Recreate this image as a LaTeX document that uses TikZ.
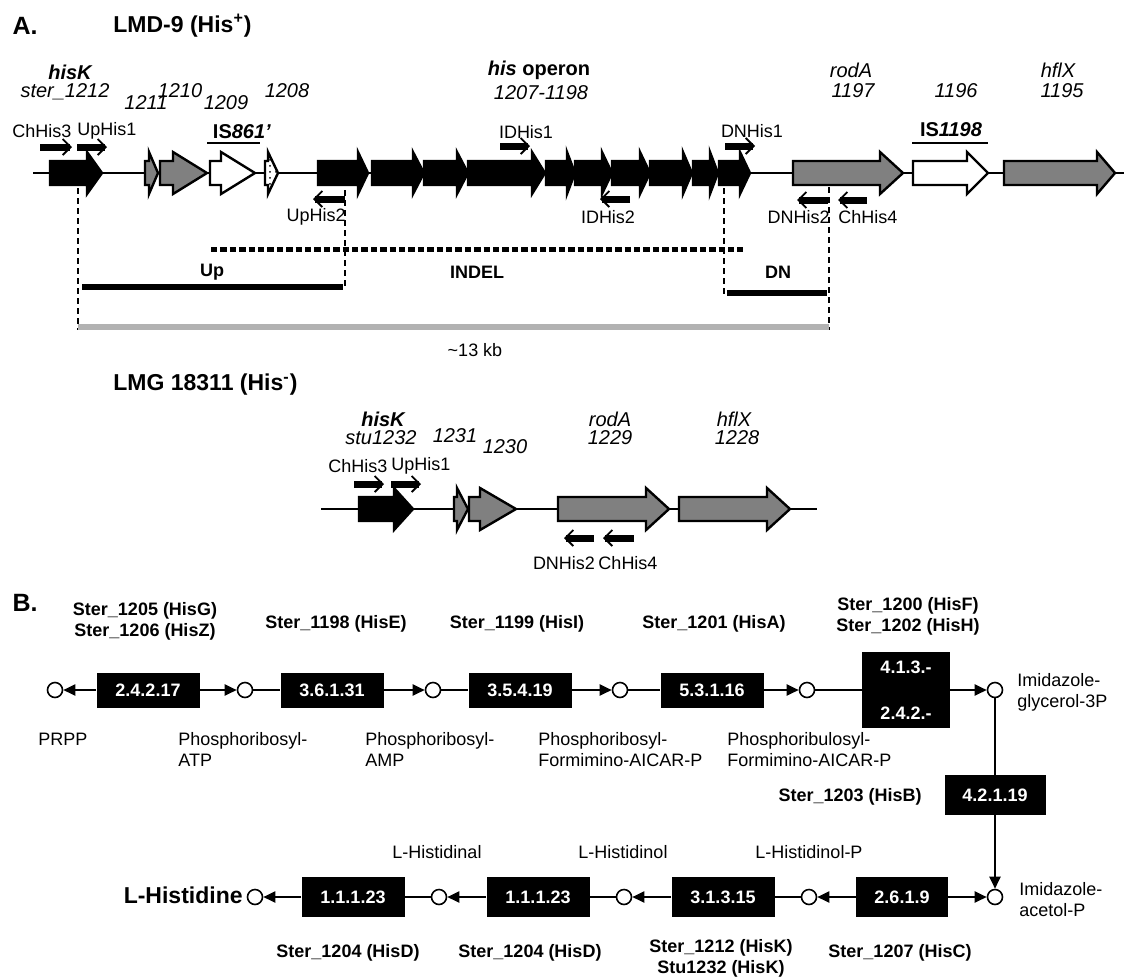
\documentclass[tikz,border=0pt]{standalone}
\usepackage{fontspec}
\setmainfont{Liberation Sans}
\usetikzlibrary{arrows.meta,patterns}

% gene arrow: style, start, neck, tip, centre line
\newcommand{\genearrow}[5]{%
 \draw[gene,#1] (#2,#5-12) -- (#3,#5-12) -- (#3,#5-21) -- (#4,#5)
  -- (#3,#5+21) -- (#3,#5+12) -- (#2,#5+12) -- cycle;}

\begin{document}
\begin{tikzpicture}[x=0.5pt,y=-0.5pt,font=\fontsize{9}{10.5}\selectfont,
 gene/.style={draw,line width=1.2pt,line join=miter},
 primer/.style={line width=3.5pt,-{Straight Barb[line width=0.9pt,length=4pt,width=8pt]}},
 cut/.style={line width=0.8pt,dash pattern=on 3pt off 2pt},
 lbl/.style={inner sep=0pt},
 glbl/.style={inner sep=0pt,font=\itshape\fontsize{10}{12}\selectfont},
 hd/.style={inner sep=0pt,anchor=west,font=\bfseries\fontsize{11.5}{13}\selectfont},
 box/.style={fill=black,text=white,font=\bfseries\fontsize{9}{10}\selectfont,
  minimum width=51.5pt,minimum height=17.5pt,inner sep=0pt,align=center},
 met/.style={circle,draw,line width=0.8pt,fill=white,minimum size=7.5pt,inner sep=0pt},
 enz/.style={font=\bfseries\fontsize{9}{10.5}\selectfont,align=center,inner sep=0pt},
 line/.style={line width=1pt},
 rx/.style={line width=1pt,-{Triangle[length=6pt,width=5.5pt]}}]
\useasboundingbox (0,0) rectangle (1125,976);

% ---- A. LMD-9
\node[lbl,font=\bfseries\fontsize{12.5}{14}\selectfont] (tagA) at (25,26) {A.};
\node[hd] (lmd) at (113,26) {LMD-9 (His\textsuperscript{+})};
\draw[line width=1pt] (33,173) -- (1124,173);
\genearrow{fill=black}{50}{87}{102}{173}
\genearrow{fill=black!50}{145}{149}{158}{173}
\genearrow{fill=black!50}{160}{173}{207}{173}
\genearrow{fill=white}{210}{221}{255}{173}
\genearrow{fill=white,postaction={pattern=dots}}{265}{268}{278}{173}
\genearrow{fill=black}{318}{358}{368}{173}
\genearrow{fill=black}{372}{413}{424}{173}
\genearrow{fill=black}{424}{457}{468}{173}
\genearrow{fill=black}{468}{532}{545}{173}
\genearrow{fill=black}{546}{567}{575}{173}
\genearrow{fill=black}{575}{602}{612}{173}
\genearrow{fill=black}{612}{640}{650}{173}
\genearrow{fill=black}{650}{683}{692}{173}
\genearrow{fill=black}{693}{710}{718}{173}
\genearrow{fill=black}{719}{740}{750}{173}
\genearrow{fill=black!50}{793}{880}{903}{173}
\genearrow{fill=white}{913}{967}{988}{173}
\genearrow{fill=black!50}{1004}{1097}{1115}{173}

\node[glbl,font=\bfseries\itshape\fontsize{10}{12}\selectfont] (hisk) at (70,72) {hisK};
\node[glbl] (s1212) at (65,92) {ster\_1212};
\node[glbl] (g1211) at (146,103) {1211};
\node[glbl] (g1210) at (180,91) {1210};
\node[glbl] (g1209) at (226,103) {1209};
\node[glbl] (g1208) at (287,91) {1208};
\node[lbl,font=\bfseries\fontsize{10}{12}\selectfont] (op) at (539,70) {\textit{his} operon};
\node[glbl] (g1207) at (541,93) {1207-1198};
\node[glbl] (roda) at (851,70) {rodA};
\node[glbl] (g1197) at (853,91) {1197};
\node[glbl] (g1196) at (956,91) {1196};
\node[glbl] (hflx) at (1058,70) {hflX};
\node[glbl] (g1195) at (1062,91) {1195};
\node[lbl,font=\bfseries\fontsize{10}{12}\selectfont] (is861) at (242,132) {IS\textit{861’}};
\node[lbl,font=\bfseries\fontsize{10}{12}\selectfont] (is1198) at (951,130) {IS\textit{1198}};
\draw[line width=1pt] (207,143) -- (260,143);
\draw[line width=1pt] (912,143) -- (988,143);

\node[lbl] (ch3) at (42,131) {ChHis3};
\node[lbl] (up1) at (107,131) {UpHis1};
\node[lbl] (id1) at (526,132) {IDHis1};
\node[lbl] (dn1) at (752,131) {DNHis1};
\draw[primer] (40,147) -- (72,147);
\draw[primer] (77,147) -- (107,147);
\draw[primer] (500,146) -- (530,146);
\draw[primer] (725,146) -- (755,146);
\draw[primer] (345,199) -- (313,199);
\draw[primer] (630,199) -- (600,199);
\draw[primer] (828,200) -- (797,200);
\draw[primer] (867,200) -- (838,200);
\node[lbl,anchor=east] (up2) at (346,217) {UpHis2};
\node[lbl] (id2) at (608,217) {IDHis2};
\node[lbl,anchor=east] (dn2) at (830,217) {DNHis2};
\node[lbl,anchor=west] (ch4) at (838,217) {ChHis4};

\draw[cut] (78,188) -- (78,330);
\draw[cut] (345,190) -- (345,288);
\draw[cut] (724,188) -- (724,297);
\draw[cut] (829,187) -- (829,330);
\draw[line width=2.5pt,dash pattern=on 3.2pt off 1.5pt] (211,249) -- (743,249);
\draw[line width=3pt] (82,287) -- (343,287);
\draw[line width=3pt] (727,293) -- (827,293);
\draw[line width=3pt,black!30] (78,327) -- (829,327);
\node[lbl,font=\bfseries\fontsize{9}{10.5}\selectfont] (upr) at (212,272) {Up};
\node[lbl,font=\bfseries\fontsize{9}{10.5}\selectfont] (indel) at (477,272) {INDEL};
\node[lbl,font=\bfseries\fontsize{9}{10.5}\selectfont] (dnr) at (778,272) {DN};
\node[lbl] (kb) at (475,350) {\textasciitilde13 kb};

% ---- LMG 18311
\node[hd] (lmg) at (113,385) {LMG 18311 (His\textsuperscript{-})};
\draw[line width=1pt] (321,509) -- (817,509);
\genearrow{fill=black}{359}{394}{413}{509}
\genearrow{fill=black!50}{454}{457}{468}{509}
\genearrow{fill=black!50}{469}{480}{516}{509}
\genearrow{fill=black!50}{558}{646}{669}{509}
\genearrow{fill=black!50}{679}{767}{790}{509}
\node[glbl,font=\bfseries\itshape\fontsize{10}{12}\selectfont] (hisk2) at (383,419) {hisK};
\node[glbl] (s1232) at (381,438) {stu1232};
\node[glbl] (g1231) at (455,436) {1231};
\node[glbl] (g1230) at (505,447) {1230};
\node[glbl] (roda2) at (610,419) {rodA};
\node[glbl] (g1229) at (610,438) {1229};
\node[glbl] (hflx2) at (734,419) {hflX};
\node[glbl] (g1228) at (737,438) {1228};
\node[lbl] (ch3b) at (358,466) {ChHis3};
\node[lbl] (up1b) at (421,466) {UpHis1};
\draw[primer] (354,484) -- (384,484);
\draw[primer] (391,484) -- (421,484);
\draw[primer] (594,538) -- (564,538);
\draw[primer] (634,538) -- (603,538);
\node[lbl] (dn2b) at (564,563) {DNHis2};
\node[lbl] (ch4b) at (628,563) {ChHis4};

% ---- B. pathway
\node[lbl,font=\bfseries\fontsize{12.5}{14}\selectfont] (tagB) at (25,603) {B.};
\node[met] (m1) at (55,690) {};
\node[box] (e1) at (148,690) {2.4.2.17};
\node[met] (m2) at (245,690) {};
\node[box] (e2) at (332,690) {3.6.1.31};
\node[met] (m3) at (433,690) {};
\node[box] (e3) at (520,690) {3.5.4.19};
\node[met] (m4) at (620,690) {};
\node[box] (e4) at (712,690) {5.3.1.16};
\node[met] (m5) at (807,690) {};
\node[box,minimum width=44pt,minimum height=38pt] (e5) at (906,690) {4.1.3.-\\[13pt]2.4.2.-};
\node[met] (m6) at (995,690) {};
\node[box,minimum width=50.5pt,minimum height=20pt] (e6) at (995,795) {4.2.1.19};
\node[met] (m7) at (995,897) {};
\node[box,minimum width=46pt,minimum height=20pt] (e7) at (902,897) {2.6.1.9};
\node[met] (m8) at (809,897) {};
\node[box,minimum height=20pt] (e8) at (723,897) {3.1.3.15};
\node[met] (m9) at (624,897) {};
\node[box,minimum height=20pt] (e9) at (538,897) {1.1.1.23};
\node[met] (m10) at (439,897) {};
\node[box,minimum height=20pt] (e10) at (353,897) {1.1.1.23};
\node[met] (m11) at (255,897) {};

\draw[rx] (e1) -- (m1); \draw[rx] (e1) -- (m2);
\draw[line] (m2) -- (e2); \draw[rx] (e2) -- (m3);
\draw[line] (m3) -- (e3); \draw[rx] (e3) -- (m4);
\draw[line] (m4) -- (e4); \draw[rx] (e4) -- (m5);
\draw[line] (m5) -- (e5); \draw[rx] (e5) -- (m6);
\draw[line] (m6) -- (e6); \draw[rx] (e6) -- (m7);
\draw[rx] (e7) -- (m7); \draw[rx] (e7) -- (m8);
\draw[line] (m8) -- (e8); \draw[rx] (e8) -- (m9);
\draw[line] (m9) -- (e9); \draw[rx] (e9) -- (m10);
\draw[line] (m10) -- (e10); \draw[rx] (e10) -- (m11);

\node[enz] (z1) at (145,621) {Ster\_1205 (HisG)\\Ster\_1206 (HisZ)};
\node[enz] (z2) at (336,624) {Ster\_1198 (HisE)};
\node[enz] (z3) at (517,624) {Ster\_1199 (HisI)};
\node[enz] (z4) at (714,624) {Ster\_1201 (HisA)};
\node[enz] (z5) at (908,616) {Ster\_1200 (HisF)\\Ster\_1202 (HisH)};
\node[enz,anchor=east] (z6) at (922,797) {Ster\_1203 (HisB)};
\node[enz] (z7) at (900,953) {Ster\_1207 (HisC)};
\node[enz] (z8) at (721,958) {Ster\_1212 (HisK)\\Stu1232 (HisK)};
\node[enz] (z9) at (530,953) {Ster\_1204 (HisD)};
\node[enz] (z10) at (348,953) {Ster\_1204 (HisD)};

\node[lbl] (n1) at (63,739) {PRPP};
\node[lbl,anchor=north west,align=left] (n2) at (178,732) {Phosphoribosyl-\\ATP};
\node[lbl,anchor=north west,align=left] (n3) at (365,732) {Phosphoribosyl-\\AMP};
\node[lbl,anchor=north west,align=left] (n4) at (538,732) {Phosphoribosyl-\\Formimino-AICAR-P};
\node[lbl,anchor=north west,align=left] (n5) at (727,732) {Phosphoribulosyl-\\Formimino-AICAR-P};
\node[lbl,anchor=west,align=left] (n6) at (1017,692) {Imidazole-\\glycerol-3P};
\node[lbl,anchor=west,align=left] (n7) at (1019,900) {Imidazole-\\acetol-P};
\node[lbl] (n8) at (809,852) {L-Histidinol-P};
\node[lbl] (n9) at (623,852) {L-Histidinol};
\node[lbl] (n10) at (437,852) {L-Histidinal};
\node[lbl,anchor=east,font=\bfseries\fontsize{11.5}{13}\selectfont] (n11) at (243,895) {L-Histidine};
\end{tikzpicture}
\end{document}
